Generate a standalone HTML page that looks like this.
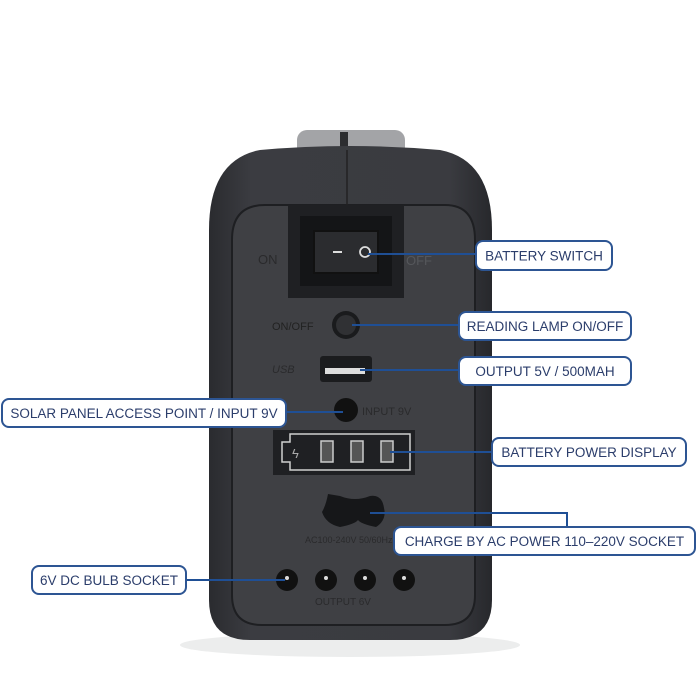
<!DOCTYPE html>
<html><head><meta charset="utf-8"><style>
html,body{margin:0;padding:0;background:#fff;width:700px;height:700px;overflow:hidden}
svg{display:block}
text{font-family:"Liberation Sans",sans-serif}
</style></head><body>
<svg width="700" height="700" viewBox="0 0 700 700" xmlns="http://www.w3.org/2000/svg">
<defs>
<linearGradient id="bg" x1="0" y1="0" x2="1" y2="0">
<stop offset="0" stop-color="#2a2b2f"/><stop offset="0.15" stop-color="#3b3c41"/><stop offset="0.85" stop-color="#3a3b40"/><stop offset="1" stop-color="#27282c"/>
</linearGradient>
</defs>
<rect width="700" height="700" fill="#fff"/>
<ellipse cx="350" cy="645" rx="170" ry="12" fill="#eceded"/>
<!-- handle -->
<rect x="297" y="130" width="108" height="40" rx="10" fill="#a3a4a7"/>
<rect x="340" y="132" width="8" height="20" fill="#2c2d30"/>
<!-- body -->
<path d="M260 150 Q350 142 440 150 Q492 160 492 230 L492 600 Q492 640 450 640 L250 640 Q209 640 209 600 L209 230 Q209 160 260 150 Z" fill="url(#bg)"/>
<path d="M265 205 L445 205 Q475 205 475 240 L475 595 Q475 625 445 625 L262 625 Q232 625 232 595 L232 240 Q232 205 265 205 Z" fill="#3f4044" stroke="#1e1f22" stroke-width="2"/>
<line x1="347" y1="150" x2="347" y2="205" stroke="#222" stroke-width="1.5"/>
<!-- switch -->
<rect x="288" y="205" width="116" height="93" fill="#1f2023"/>
<rect x="300" y="216" width="92" height="70" fill="#141517"/>
<rect x="314" y="231" width="64" height="42" fill="#2b2c2f" stroke="#111" stroke-width="2"/>
<line x1="333" y1="252" x2="342" y2="252" stroke="#ddd" stroke-width="2"/>
<circle cx="365" cy="252" r="5" fill="none" stroke="#ddd" stroke-width="1.8"/>
<text x="258" y="264" font-size="13" fill="#2a2a2c">ON</text>
<text x="406" y="265" font-size="13" fill="#55575b">OFF</text>
<!-- button -->
<circle cx="346" cy="325" r="14" fill="#1a1b1d"/>
<circle cx="346" cy="325" r="10" fill="#303134"/>
<text x="272" y="330" font-size="11" fill="#222">ON/OFF</text>
<!-- usb -->
<rect x="320" y="356" width="52" height="26" rx="3" fill="#1b1c1e"/>
<rect x="325" y="368" width="40" height="6" fill="#ddd"/>
<text x="272" y="373" font-size="11" fill="#2a2a2c" font-style="italic">USB</text>
<!-- solar -->
<circle cx="346" cy="410" r="12" fill="#111"/>
<text x="362" y="415" font-size="11" fill="#2a2a2c">INPUT 9V</text>
<!-- battery display -->
<rect x="273" y="430" width="142" height="45" fill="#1f2023"/>
<path d="M290 434 L410 434 L410 470 L290 470 L290 462 L282 462 L282 442 L290 442 Z" fill="none" stroke="#cfcfcf" stroke-width="1.5"/>
<text x="292" y="458" font-size="13" fill="#aaa">ϟ</text>
<rect x="321" y="441" width="12" height="21" fill="#555" stroke="#ccc" stroke-width="1.5"/>
<rect x="351" y="441" width="12" height="21" fill="#555" stroke="#ccc" stroke-width="1.5"/>
<rect x="381" y="441" width="12" height="21" fill="#555" stroke="#ccc" stroke-width="1.5"/>
<!-- ac socket -->
<path d="M328 494 Q326 505 322 512 Q326 524 340 527 Q355 524 358 520 Q361 524 376 527 Q387 520 384 508 Q382 494 370 496 Q355 502 340 496 Z" fill="#161719"/>
<text x="305" y="543" font-size="9" fill="#2a2a2c">AC100-240V 50/60Hz</text>
<!-- dc sockets -->
<g fill="#111"><circle cx="287" cy="580" r="11"/><circle cx="326" cy="580" r="11"/><circle cx="365" cy="580" r="11"/><circle cx="404" cy="580" r="11"/></g>
<g fill="#ddd"><circle cx="287" cy="578" r="2"/><circle cx="326" cy="578" r="2"/><circle cx="365" cy="578" r="2"/><circle cx="404" cy="578" r="2"/></g>
<text x="315" y="605" font-size="10" fill="#2a2a2c">OUTPUT 6V</text>
<!-- connectors -->
<g stroke="#1f4f95" stroke-width="2" fill="none">
<line x1="368" y1="254" x2="476" y2="254"/>
<line x1="352" y1="325" x2="459" y2="325"/>
<line x1="360" y1="370" x2="459" y2="370"/>
<line x1="285" y1="412" x2="343" y2="412"/>
<line x1="390" y1="452" x2="492" y2="452"/>
<polyline points="370,513 567,513 567,527"/>
<line x1="186" y1="580" x2="285" y2="580"/>
</g>
<!-- labels -->
<g fill="#fff" stroke="#2d5593" stroke-width="2">
<rect x="476" y="241" width="136" height="29" rx="7"/>
<rect x="459" y="312" width="172" height="28" rx="7"/>
<rect x="459" y="357" width="172" height="28" rx="7"/>
<rect x="2" y="399" width="284" height="28" rx="7"/>
<rect x="492" y="438" width="194" height="28" rx="7"/>
<rect x="394" y="527" width="301" height="28" rx="7"/>
<rect x="32" y="566" width="154" height="28" rx="7"/>
</g>
<g fill="#2b3d6b" font-size="13.5" text-anchor="middle">
<text x="544" y="260.5">BATTERY SWITCH</text>
<text x="545" y="331">READING LAMP ON/OFF</text>
<text x="545" y="376">OUTPUT 5V / 500MAH</text>
<text x="144" y="418">SOLAR PANEL ACCESS POINT / INPUT 9V</text>
<text x="589" y="457">BATTERY POWER DISPLAY</text>
<text x="544.5" y="546">CHARGE BY AC POWER 110–220V SOCKET</text>
<text x="109" y="585">6V DC BULB SOCKET</text>
</g>
</svg>
</body></html>
